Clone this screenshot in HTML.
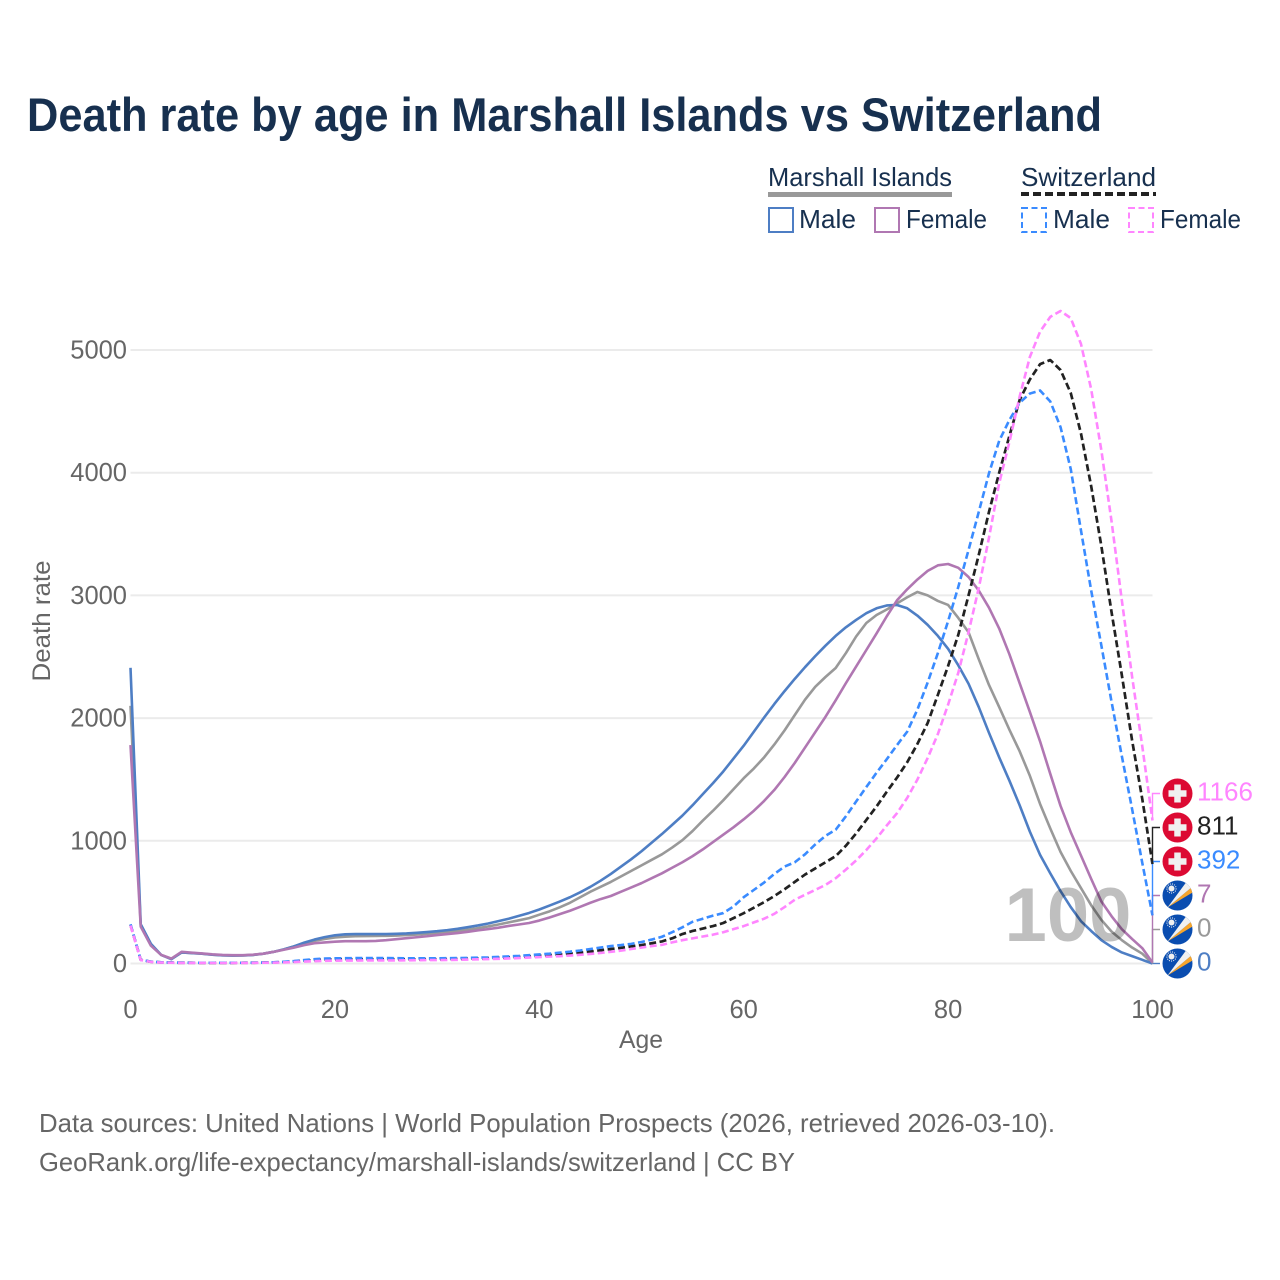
<!DOCTYPE html>
<html lang="en">
<head>
<meta charset="utf-8">
<title>Death rate by age in Marshall Islands vs Switzerland</title>
<style>
html,body{margin:0;padding:0;background:#fff;}
svg{display:block;font-family:"Liberation Sans",sans-serif;}
</style>
</head>
<body>
<svg id="chart" xmlns="http://www.w3.org/2000/svg" width="1280" height="1280" viewBox="0 0 1280 1280">
<defs>
<clipPath id="flag-clip"><circle cx="0" cy="0" r="15"/></clipPath>
</defs>
<rect x="0" y="0" width="1280" height="1280" fill="#fff"/>
<text x="27" y="131" font-size="47" font-weight="700" fill="#17304f" textLength="1075" lengthAdjust="spacingAndGlyphs">Death rate by age in Marshall Islands vs Switzerland</text>

<g>
<text x="768" y="186" font-size="26" fill="#17304f" textLength="184" lengthAdjust="spacingAndGlyphs">Marshall Islands</text>
<rect x="768" y="192" width="184" height="5" fill="#999"/>
<text x="1021" y="186" font-size="26" fill="#17304f" textLength="135" lengthAdjust="spacingAndGlyphs">Switzerland</text>
<line x1="1021" y1="194" x2="1156" y2="194" stroke="#222" stroke-width="4" stroke-dasharray="8 4"/>
<g>
<rect x="769" y="208" width="24" height="24" fill="none" stroke="#4e7ec4" stroke-width="2"/>
<text x="799" y="228" font-size="26" fill="#17304f" textLength="57" lengthAdjust="spacingAndGlyphs">Male</text>
</g>
<g>
<rect x="875" y="208" width="24" height="24" fill="none" stroke="#b077b2" stroke-width="2"/>
<text x="906" y="228" font-size="26" fill="#17304f" textLength="81" lengthAdjust="spacingAndGlyphs">Female</text>
</g>
<g>
<rect x="1022" y="208" width="24" height="24" fill="none" stroke="#3a8bff" stroke-width="2" stroke-dasharray="6 3.5"/>
<text x="1053" y="228" font-size="26" fill="#17304f" textLength="57" lengthAdjust="spacingAndGlyphs">Male</text>
</g>
<g>
<rect x="1129" y="208" width="24" height="24" fill="none" stroke="#ff85ff" stroke-width="2" stroke-dasharray="6 3.5"/>
<text x="1160" y="228" font-size="26" fill="#17304f" textLength="81" lengthAdjust="spacingAndGlyphs">Female</text>
</g>
</g>

<g id="grid"></g>
<g id="yticks"></g>
<g id="xticks"></g>
<text transform="translate(50 621) rotate(-90)" text-anchor="middle" font-size="25" fill="#666" textLength="121" lengthAdjust="spacingAndGlyphs">Death rate</text>
<text x="641" y="1048" text-anchor="middle" font-size="25" fill="#666" textLength="44" lengthAdjust="spacingAndGlyphs">Age</text>

<g id="lines"></g>
<text id="age-watermark" x="1068" y="941" text-anchor="middle" font-size="76" font-weight="700" fill="#000" fill-opacity="0.25" textLength="127" lengthAdjust="spacingAndGlyphs">100</text>
<g id="connectors"></g>
<g id="endlabels"></g>

<text x="39" y="1132" font-size="26" fill="#666" textLength="1016" lengthAdjust="spacingAndGlyphs">Data sources: United Nations | World Population Prospects (2026, retrieved 2026-03-10).</text>
<text x="39" y="1171" font-size="26" fill="#666" textLength="756" lengthAdjust="spacingAndGlyphs">GeoRank.org/life-expectancy/marshall-islands/switzerland | CC BY</text>
</svg>
<script>
const xTickLabels = [0, 20, 40, 60, 80, 100];
const yTickLabels = [0, 1000, 2000, 3000, 4000, 5000];
const marshallTotal = [2100,310,150,70,38,90,85,80,72,67,65,66,70,80,95,115,140,165,185,200,212,218,222,224,225,226,228,232,236,242,248,256,265,276,288,302,318,335,352,370,398,425,458,495,540,585,625,665,710,755,800,845,890,945,1005,1080,1165,1245,1330,1420,1510,1590,1680,1785,1900,2025,2150,2255,2335,2408,2530,2665,2775,2840,2885,2935,2985,3028,3000,2955,2922,2816,2700,2480,2270,2090,1905,1730,1530,1300,1100,910,755,615,475,355,260,190,130,80,0];
const marshallMale = [2410,320,160,70,35,90,85,80,72,67,65,66,70,80,95,115,140,170,195,215,230,238,240,240,240,240,242,245,250,256,263,272,283,296,310,326,345,365,388,412,440,472,505,540,580,625,675,730,790,850,915,985,1055,1130,1205,1290,1380,1470,1565,1670,1775,1890,2005,2115,2220,2320,2415,2505,2590,2670,2740,2800,2855,2895,2918,2922,2895,2835,2760,2670,2565,2430,2280,2090,1880,1680,1490,1290,1075,885,735,590,460,345,265,190,135,90,60,30,0];
const marshallFemale = [1780,300,145,70,40,95,88,82,75,70,68,68,72,80,95,112,130,150,165,172,178,182,182,182,184,190,198,206,214,222,232,240,248,258,270,280,292,306,318,330,350,375,402,430,462,495,525,550,585,620,655,695,735,780,825,875,930,990,1050,1110,1175,1245,1325,1415,1520,1635,1760,1885,2010,2145,2285,2420,2555,2690,2830,2960,3050,3130,3200,3245,3256,3225,3150,3040,2900,2730,2520,2285,2050,1810,1545,1285,1070,880,690,505,385,280,200,125,7];
const swissTotal = [315,30,14,9,7,6,6,5,5,5,5,6,6,7,9,12,17,23,28,32,34,35,35,35,35,35,35,34,34,35,35,36,37,39,41,44,47,50,54,58,63,68,74,81,89,98,108,118,128,140,150,165,180,205,240,265,285,305,330,370,410,455,500,550,605,665,725,775,825,875,960,1060,1170,1280,1400,1515,1640,1790,1960,2190,2425,2680,3000,3330,3680,4000,4300,4593,4760,4885,4918,4837,4650,4320,3890,3400,2860,2350,1820,1340,811];
const swissMale = [320,30,15,10,8,7,6,6,6,6,6,6,7,8,10,14,20,28,35,40,42,43,44,44,44,44,43,42,42,42,42,43,44,46,48,50,54,58,62,68,74,80,88,96,106,118,130,142,150,160,175,195,218,255,295,340,365,390,411,465,540,600,660,730,790,825,890,970,1040,1090,1200,1320,1438,1555,1665,1780,1890,2070,2290,2530,2790,3070,3370,3680,3995,4260,4430,4570,4645,4670,4580,4372,4030,3530,3040,2590,2130,1690,1260,820,392];
const swissFemale = [310,28,13,8,6,5,5,5,4,4,4,5,5,6,7,9,12,16,19,22,23,24,24,25,25,25,25,26,27,28,28,29,30,32,34,36,38,41,44,48,52,56,60,65,71,78,86,95,105,118,130,142,152,172,190,205,220,235,255,280,305,335,365,405,460,520,560,600,640,695,765,840,925,1020,1125,1225,1350,1500,1675,1870,2110,2370,2700,3060,3470,3915,4250,4620,4943,5150,5270,5318,5260,5050,4680,4180,3600,2960,2340,1770,1166];

const SVGNS = 'http://www.w3.org/2000/svg';
const xAxis = function (age) { return 130.5 + age * 10.22; };
const yAxis = function (value) { return 963.5 - value * 0.1227; };

function make(tag, attrs, parent) {
  const el = document.createElementNS(SVGNS, tag);
  for (const k in attrs) el.setAttribute(k, attrs[k]);
  parent.appendChild(el);
  return el;
}

const grid = document.getElementById('grid');
const yticks = document.getElementById('yticks');
const xticks = document.getElementById('xticks');
const linesGroup = document.getElementById('lines');
const connectors = document.getElementById('connectors');
const endlabels = document.getElementById('endlabels');

yTickLabels.forEach(function (v) {
  const line = make('line', {x1: 130.5, x2: 1152.5, y1: yAxis(v), y2: yAxis(v), stroke: '#ebebeb', 'stroke-width': 2}, grid);
  
  
  const t = make('text', {x: 127, y: yAxis(v) + 8.5, 'text-anchor': 'end', 'font-size': 25.5, fill: '#666'}, yticks);
  
  
  t.textContent = v;
});

xTickLabels.forEach(function (a) {
  const t = make('text', {x: xAxis(a), y: 1018, 'text-anchor': 'middle', 'font-size': 25.5, fill: '#666'}, xticks);
  
  
  t.textContent = a;
});

const seriesList = [
  {key: 'marshall-total', values: marshallTotal, color: '#999999', dash: '', width: 2.6, flag: 'mh', tie: 1},
  {key: 'marshall-male', values: marshallMale, color: '#4e7ec4', dash: '', width: 2.6, flag: 'mh', tie: 0},
  {key: 'marshall-female', values: marshallFemale, color: '#b077b2', dash: '', width: 2.6, flag: 'mh', tie: 2},
  {key: 'switzerland-total', values: swissTotal, color: '#222222', dash: '7 3.5', width: 2.7, flag: 'ch', tie: 4},
  {key: 'switzerland-male', values: swissMale, color: '#3a8bff', dash: '7 3.5', width: 2.6, flag: 'ch', tie: 3},
  {key: 'switzerland-female', values: swissFemale, color: '#ff85ff', dash: '7 3.5', width: 2.6, flag: 'ch', tie: 5}
];

seriesList.forEach(function (s) {
  const d = s.values.map(function (v, i) {
    return (i ? 'L' : 'M') + xAxis(i).toFixed(2) + ' ' + yAxis(v).toFixed(2);
  }).join('');
  const attrs = {d: d, fill: 'none', stroke: s.color, 'stroke-width': s.width, 'stroke-linejoin': 'round'};
  if (s.dash) attrs['stroke-dasharray'] = s.dash;
  const p = make('path', attrs, linesGroup);
  
  
});

function drawFlag(kind, cx, cy, parent) {
  const g = make('g', {transform: 'translate(' + cx + ' ' + cy + ')', 'clip-path': 'url(#flag-clip)'}, parent);
  if (kind === 'ch') {
    
    
    make('rect', {x: -15, y: -15, width: 30, height: 30, fill: '#dc0a33'}, g);
    make('rect', {x: -9, y: -3.25, width: 18, height: 6.5, fill: '#f0f0f0'}, g);
    make('rect', {x: -3.25, y: -9, width: 6.5, height: 18, fill: '#f0f0f0'}, g);
  } else {
    
    
    make('rect', {x: -15, y: -15, width: 30, height: 30, fill: '#0a4db0'}, g);
    make('polygon', {points: '-10,12 15,-3 15,-9', fill: '#f7a52b'}, g);
    make('polygon', {points: '-10,12 15,-9 10,-15', fill: '#f0f0f0'}, g);
    make('circle', {cx: -6, cy: -7, r: 3, fill: '#f0f0f0'}, g);
    make('circle', {cx: -6, cy: -7, r: 4.6, fill: 'none', stroke: '#f0f0f0', 'stroke-width': 1.1, 'stroke-dasharray': '1 1.2'}, g);
  }
}

const sortedEnds = seriesList.slice().sort(function (a, b) {
  const av = a.values[a.values.length - 1];
  const bv = b.values[b.values.length - 1];
  if (av !== bv) return av - bv;
  return a.tie - b.tie;
});

sortedEnds.forEach(function (s, i) {
  const last = s.values[s.values.length - 1];
  const slotY = yAxis(0) - i * 34;
  const endY = yAxis(last);
  const c = make('path', {d: 'M1152.5 ' + endY + 'V' + slotY + 'H1160', fill: 'none', stroke: s.color, 'stroke-width': 1.4}, connectors);
  
  
  drawFlag(s.flag, 1177.5, slotY, endlabels);
  const t = make('text', {x: 1197, y: slotY + 7, 'font-size': 26, fill: s.color}, endlabels);
  
  
  t.textContent = last;
});
</script>
</body>
</html>
